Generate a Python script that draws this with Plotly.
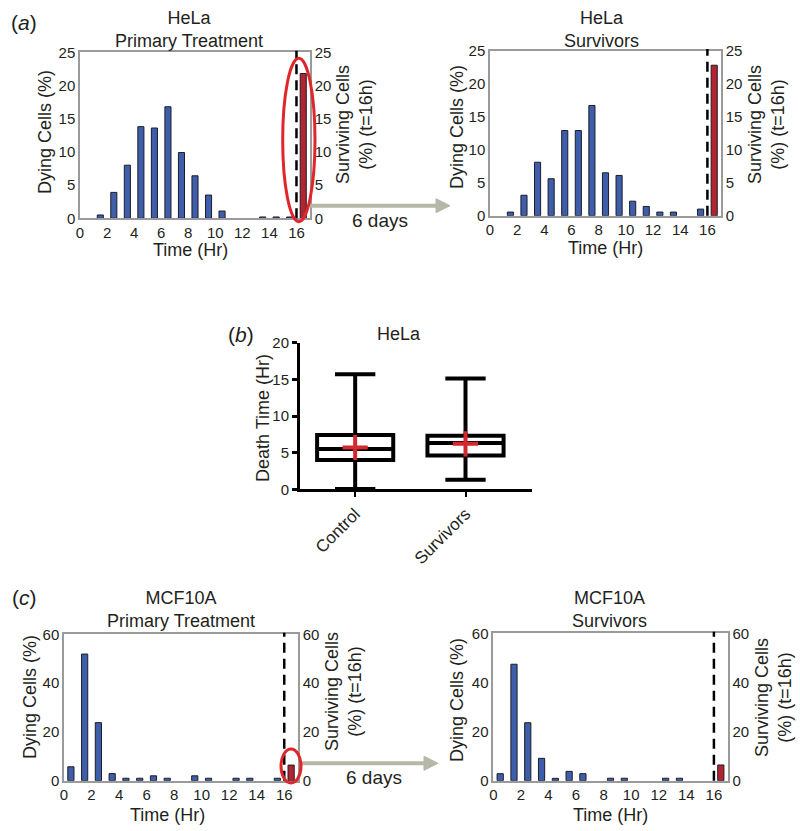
import plotly.graph_objects as go

# ---------------- data ----------------
time_bins = [0.5, 1.5, 2.5, 3.5, 4.5, 5.5, 6.5, 7.5, 8.5, 9.5, 10.5, 11.5, 12.5, 13.5, 14.5, 15.5]
surv_bin = [16.5]
hist_ticks = [0, 2, 4, 6, 8, 10, 12, 14, 16]

hela_primary_dying = [0, 0.5, 3.9, 8.0, 13.8, 13.6, 16.8, 9.9, 6.4, 3.5, 1.1, 0, 0, 0.2, 0.2, 0.2]
hela_primary_surviving = [21.8]
hela_surv_dying = [0, 0.55, 3.1, 8.1, 5.6, 12.9, 12.9, 16.7, 6.5, 6.1, 2.2, 1.4, 0.55, 0.55, 0, 1.0]
hela_surv_surviving = [22.8]

mcf_primary_dying = [5.7, 51.9, 23.8, 2.9, 1.0, 1.0, 2.0, 1.0, 0, 2.0, 1.0, 0, 1.0, 1.0, 0, 1.0]
mcf_primary_surviving = [6.4]
mcf_surv_dying = [2.85, 47.4, 23.6, 9.1, 0.95, 3.8, 2.85, 0, 1.0, 1.0, 0, 0, 1.0, 1.0, 0, 0]
mcf_surv_surviving = [6.4]

box_groups = ["Control", "Survivors"]
box_q1 = [4.0, 4.6]
box_median = [5.5, 6.3]
box_q3 = [7.4, 7.3]
box_lower = [0.05, 1.3]
box_upper = [15.7, 15.1]
box_mean = [5.7, 6.2]

# ---------------- style ----------------
W, H = 800, 831
FONT = "Arial, Liberation Sans, sans-serif"
TXT = "#231f20"
BLUE = "#3e5ea9"
RED = "#b22530"
EDGE = "#1c1c2a"
FRAME = "#9a9a9a"
ARROW = "#b5b7a7"


def px(x):
    return x / W


def py(y):
    return 1 - y / H


fig = go.Figure()

panels = [
    ("x", "y", "y2", (80, 310), (52.3, 218.3), 25, hela_primary_dying, hela_primary_surviving),
    ("x2", "y3", "y4", (490, 721), (50.7, 215.7), 25, hela_surv_dying, hela_surv_surviving),
    ("x3", "y5", "y6", (64, 298), (634.3, 780.7), 60, mcf_primary_dying, mcf_primary_surviving),
    ("x4", "y7", "y8", (493.3, 727.7), (633.3, 780.7), 60, mcf_surv_dying, mcf_surv_surviving),
]

layout = {}
shapes = []


def axkey(a):
    return ("xaxis" if a[0] == "x" else "yaxis") + a[1:]


TICKFONT = dict(size=15, color=TXT, family=FONT)

for xa, yl, yr, xd, yd, ymax, dying, surv in panels:
    # empty bins are left without a mark (no outline drawn at zero)
    yvals = [v if v > 0 else None for v in dying]
    fig.add_trace(go.Bar(x=time_bins, y=yvals, width=0.45, xaxis=xa, yaxis=yl,
                         marker=dict(color=BLUE, line=dict(color=EDGE, width=1)),
                         showlegend=False))
    fig.add_trace(go.Bar(x=surv_bin, y=surv, width=0.45, xaxis=xa, yaxis=yr,
                         marker=dict(color=RED, line=dict(color=EDGE, width=1)),
                         showlegend=False))
    step = 5 if ymax == 25 else 20
    tv = list(range(0, ymax + 1, step))
    layout[axkey(xa)] = dict(domain=[px(xd[0]), px(xd[1])], anchor=yl, range=[0, 17],
                             tickvals=hist_ticks, showline=True, linecolor=FRAME, linewidth=1.5,
                             mirror=True, showgrid=False, zeroline=False, ticks="",
                             tickfont=TICKFONT, automargin=False)
    layout[axkey(yl)] = dict(domain=[py(yd[1]), py(yd[0])], anchor=xa, range=[0, ymax],
                             tickvals=tv, showline=True, linecolor=FRAME, linewidth=1.5,
                             showgrid=False, zeroline=False, ticks="",
                             tickfont=TICKFONT, automargin=False)
    layout[axkey(yr)] = dict(overlaying=yl, side="right", anchor=xa, range=[0, ymax],
                             tickvals=tv, showline=True, linecolor=FRAME, linewidth=1.5,
                             showgrid=False, zeroline=False, ticks="",
                             tickfont=TICKFONT, automargin=False)
    shapes.append(dict(type="line", xref=xa, yref=yl + " domain", x0=16, x1=16, y0=0, y1=1.01,
                       line=dict(color="black", width=2.5, dash="10px,6px")))

# ---------------- box panel (b) ----------------
fig.add_trace(go.Box(x=box_groups, q1=box_q1, median=box_median, q3=box_q3,
                     lowerfence=box_lower, upperfence=box_upper,
                     xaxis="x5", yaxis="y9", width=0.69, whiskerwidth=0.53,
                     fillcolor="rgba(255,255,255,0)", line=dict(color="black", width=4),
                     boxpoints=False, showlegend=False, hoverinfo="skip"))
fig.add_trace(go.Scatter(x=box_groups, y=box_mean, mode="markers", xaxis="x5", yaxis="y9",
                         marker=dict(symbol="cross-thin", size=18,
                                     line=dict(color="#d2282e", width=4)),
                         showlegend=False))
layout["xaxis5"] = dict(domain=[px(300), px(531.7)], anchor="y9", range=[-0.5, 1.6],
                        showline=True, linecolor="black", linewidth=3, ticks="outside",
                        ticklen=5, tickwidth=2, tickcolor="black", tickangle=-45,
                        showgrid=False, zeroline=False, automargin=False,
                        tickfont=dict(size=17, color=TXT, family=FONT))
layout["yaxis9"] = dict(domain=[py(489.3), py(342.7)], anchor="x5", range=[0, 20],
                        tickvals=[0, 5, 10, 15, 20], showline=True, linecolor="black",
                        linewidth=3, ticks="outside", ticklen=5, tickwidth=3,
                        tickcolor="black", showgrid=False, zeroline=False, automargin=False,
                        tickfont=dict(size=15, color=TXT, family=FONT))

# ---------------- arrows + ellipses ----------------
for y, x0, x1 in [(205.7, 310, 450), (763.3, 300, 438)]:
    shapes.append(dict(type="line", xref="paper", yref="paper", x0=px(x0), x1=px(x1 - 12),
                       y0=py(y), y1=py(y), line=dict(color=ARROW, width=4)))
    shapes.append(dict(type="path", xref="paper", yref="paper",
                       path=f"M {px(x1-14)},{py(y-7)} L {px(x1)},{py(y)} L {px(x1-14)},{py(y+7)} Z",
                       fillcolor=ARROW, line=dict(color=ARROW, width=1)))

shapes.append(dict(type="circle", xref="paper", yref="paper", x0=px(282.7), x1=px(315),
                   y0=py(221.7), y1=py(58.3), line=dict(color="#e0262b", width=3)))
shapes.append(dict(type="circle", xref="paper", yref="paper", x0=px(281), x1=px(301),
                   y0=py(783), y1=py(749), line=dict(color="#e0262b", width=3)))

# ---------------- text ----------------
ann = []


def text(x, y, s, size=18, angle=0):
    ann.append(dict(x=px(x), y=py(y), xref="paper", yref="paper", text=s, showarrow=False,
                    textangle=angle, xanchor="center", yanchor="middle",
                    font=dict(size=size, color=TXT, family=FONT)))


text(24, 23, "(<i>a</i>)", 21)
text(241, 334, "(<i>b</i>)", 21)
text(24, 597, "(<i>c</i>)", 21)

text(189, 30, "HeLa<br>Primary Treatment")
text(601, 30, "HeLa<br>Survivors")
text(181, 609, "MCF10A<br>Primary Treatment")
text(609, 609, "MCF10A<br>Survivors")
text(399, 334, "HeLa")

text(190, 250, "Time (Hr)")
text(605, 248, "Time (Hr)")
text(167, 815, "Time (Hr)")
text(610, 815, "Time (Hr)")

text(45, 132, "Dying Cells (%)", angle=-90)
text(457, 127, "Dying Cells (%)", angle=-90)
text(30, 697, "Dying Cells (%)", angle=-90)
text(457, 700, "Dying Cells (%)", angle=-90)

text(354, 125, "Surviving Cells<br>(%) (t=16h)", angle=-90)
text(766, 125, "Surviving Cells<br>(%) (t=16h)", angle=-90)
text(343, 692, "Surviving Cells<br>(%) (t=16h)", angle=-90)
text(773, 698, "Surviving Cells<br>(%) (t=16h)", angle=-90)

text(263, 418, "Death Time (Hr)", angle=-90)

text(380, 220, "6 days", 19)
text(374, 777, "6 days", 19)

fig.update_layout(width=W, height=H, margin=dict(l=0, r=0, t=0, b=0, autoexpand=False),
                  paper_bgcolor="white", plot_bgcolor="white", barmode="overlay",
                  font=dict(family=FONT, color=TXT), shapes=shapes, annotations=ann,
                  showlegend=False, **layout)

fig.write_html("out.html", config={"displayModeBar": False},
               post_script="document.body.style.margin='0';document.body.style.overflow='hidden';")
